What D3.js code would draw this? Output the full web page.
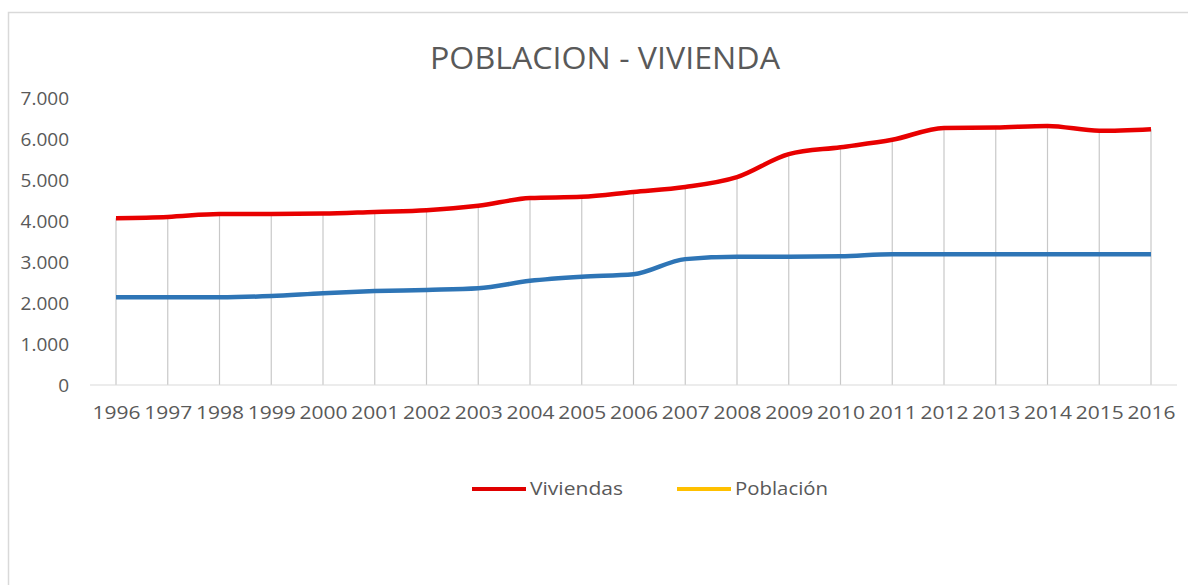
<!DOCTYPE html>
<html>
<head>
<meta charset="utf-8">
<script src="https://cdn.jsdelivr.net/npm/d3@7"></script>
<style>
  body { margin: 0; background: #fff; }
  text { font-family: "Open Sans", "DejaVu Sans", sans-serif; fill: #595959; }
</style>
</head>
<body>
<div id="container"></div>
<script>
// Poblacion - Vivienda, line chart 1996-2016

var years = ["1996","1997","1998","1999","2000","2001","2002","2003","2004","2005","2006",
             "2007","2008","2009","2010","2011","2012","2013","2014","2015","2016"];
var viviendas = [4070,4100,4170,4170,4180,4220,4260,4370,4560,4590,4710,
                 4830,5070,5630,5800,5980,6270,6280,6320,6200,6240];
var poblacion = [2140,2140,2140,2170,2240,2290,2320,2360,2540,2640,2700,
                 3070,3130,3130,3140,3190,3190,3190,3190,3190,3190];
var yTicks = [0,1000,2000,3000,4000,5000,6000,7000];
var yTickLabels = ["0","1.000","2.000","3.000","4.000","5.000","6.000","7.000"];
var seriesNames = ["Viviendas","Población"];

var W = 1188, H = 585;
var plot = {left: 90, right: 1177, top: 98, bottom: 385};

var svg = d3.select("#container").append("svg")
    .attr("width", W)
    .attr("height", H);

// chart frame (only top and left visible in the crop)
svg.append("rect")
    .attr("x", 8.5).attr("y", 12.5)
    .attr("width", W + 20).attr("height", H + 20)
    .attr("fill", "#fff")
    .attr("stroke", "#d9d9d9")
    .attr("stroke-width", 1.5);

// scales
var x = d3.scalePoint().domain(years).range([116, 1151]);
var y = d3.scaleLinear().domain([0, 7000]).range([plot.bottom, plot.top]);

// title
svg.append("text")
    .attr("x", 605).attr("y", 69)
    .attr("text-anchor", "middle")
    .attr("font-size", 31)
    .attr("textLength", 350)
    .attr("lengthAdjust", "spacingAndGlyphs")
    .text("POBLACION - VIVIENDA");

// drop lines from the top series to the axis
svg.append("g").selectAll("line")
    .data(years)
  .enter().append("line")
    .attr("x1", function(d) { return x(d); })
    .attr("x2", function(d) { return x(d); })
    .attr("y1", function(d, i) { return y(viviendas[i]); })
    .attr("y2", y(0))
    .attr("stroke", "#c8c8c8")
    .attr("stroke-width", 1.2);

// x axis baseline
svg.append("line")
    .attr("x1", plot.left).attr("x2", plot.right)
    .attr("y1", y(0)).attr("y2", y(0))
    .attr("stroke", "#d9d9d9")
    .attr("stroke-width", 1.2);

// y labels
var yAxis = d3.axisLeft(y)
    .tickValues(yTicks)
    .tickSize(0)
    .tickPadding(0)
    .tickFormat(function(d, i) { return yTickLabels[i]; });

var gy = svg.append("g")
    .attr("transform", "translate(69,0)")
    .call(yAxis);
gy.select(".domain").remove();
gy.selectAll("text")
    .attr("font-size", 19)
    .attr("fill", "#595959")
    .style("font-family", "'Open Sans', sans-serif");

// x labels
var xAxis = d3.axisBottom(x).tickSize(0).tickPadding(0);
var gx = svg.append("g")
    .attr("transform", "translate(0,405)")
    .call(xAxis);
gx.select(".domain").remove();
gx.selectAll("text")
    .attr("font-size", 19)
    .attr("dy", "0.71em")
    .attr("fill", "#595959")
    .attr("textLength", 48)
    .attr("lengthAdjust", "spacingAndGlyphs")
    .style("font-family", "'Open Sans', sans-serif");

// lines
var line = d3.line()
    .x(function(d, i) { return x(years[i]); })
    .y(function(d) { return y(d); })
    .curve(d3.curveMonotoneX);

svg.append("path")
    .datum(poblacion)
    .attr("fill", "none")
    .attr("stroke", "#2e75b6")
    .attr("stroke-width", 4.5)
    .attr("stroke-linejoin", "round")
    .attr("d", line);

svg.append("path")
    .datum(viviendas)
    .attr("fill", "none")
    .attr("stroke", "#e80000")
    .attr("stroke-width", 4.5)
    .attr("stroke-linejoin", "round")
    .attr("d", line);

// legend
var legendColors = ["#e00000", "#ffc000"];
var legendX = [472, 677];
var lg = svg.append("g").selectAll("g")
    .data(seriesNames)
  .enter().append("g")
    .attr("transform", function(d, i) { return "translate(" + legendX[i] + ",489)"; });

lg.append("line")
    .attr("x1", 0).attr("x2", 54)
    .attr("y1", 0).attr("y2", 0)
    .attr("stroke", function(d, i) { return legendColors[i]; })
    .attr("stroke-width", 4);

lg.append("text")
    .attr("x", 58)
    .attr("dy", "0.35em")
    .attr("font-size", 18)
    .attr("textLength", 93)
    .attr("lengthAdjust", "spacingAndGlyphs")
    .text(function(d) { return d; });
</script>
</body>
</html>
